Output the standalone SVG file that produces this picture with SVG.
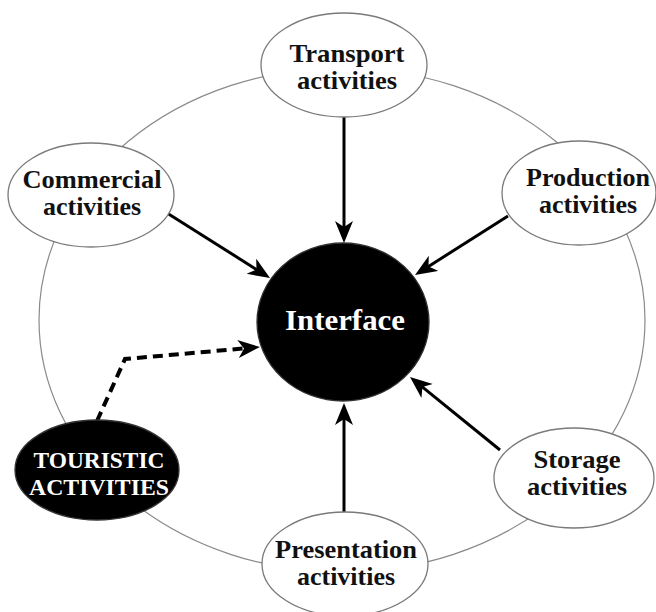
<svg xmlns="http://www.w3.org/2000/svg" width="656" height="612" viewBox="0 0 656 612">
  <style>
    .ring { fill: none; stroke: #8a8a8a; stroke-width: 1.2; }
    .node { fill: #ffffff; stroke: #7a7a7a; stroke-width: 1.3; }
    .dark { fill: #000000; stroke: #333333; stroke-width: 1.3; }
    .lbl { font-family: "Liberation Serif", "Times New Roman", serif; font-weight: bold; font-size: 26px; fill: #111111; text-anchor: middle; }
    .lbl-w { font-family: "Liberation Serif", "Times New Roman", serif; font-weight: bold; font-size: 24px; fill: #ffffff; text-anchor: middle; }
    .hub { font-family: "Liberation Serif", "Times New Roman", serif; font-weight: bold; font-size: 29px; fill: #ffffff; text-anchor: middle; }
    .link { fill: none; stroke: #000000; stroke-width: 3; }
    .dash { fill: none; stroke: #000000; stroke-width: 4; stroke-dasharray: 10 6; }
  </style>
  <defs>
    <marker id="head" markerUnits="userSpaceOnUse" markerWidth="24" markerHeight="20" refX="13" refY="9" orient="auto">
      <path d="M0,0 L22,9 L0,18 L6,9 Z" fill="#000000"/>
    </marker>
  </defs>

  <rect width="656" height="612" fill="#ffffff"/>

  <!-- surrounding ring that links the activity nodes -->
  <ellipse class="ring" cx="342" cy="320" rx="303" ry="252"/>

  <!-- connectors -->
  <g id="connectors">
    <line class="link" x1="344" y1="117" x2="344" y2="234" marker-end="url(#head)"/>
    <line class="link" x1="167" y1="213" x2="262.4" y2="273.2" marker-end="url(#head)"/>
    <line class="link" x1="508" y1="216" x2="422.6" y2="270.2" marker-end="url(#head)"/>
    <line class="link" x1="500" y1="450" x2="417" y2="382.7" marker-end="url(#head)"/>
    <line class="link" x1="344" y1="512" x2="344" y2="412" marker-end="url(#head)"/>
    <polyline class="dash" points="97,421 125,359 251,347.8" marker-end="url(#head)"/>
  </g>

  <g id="transport">
    <ellipse class="node" cx="344" cy="65" rx="83" ry="52"/>
    <text class="lbl" x="347" y="62" textLength="115" lengthAdjust="spacingAndGlyphs">Transport</text>
    <text class="lbl" x="347" y="89" textLength="100" lengthAdjust="spacingAndGlyphs">activities</text>
  </g>

  <g id="commercial">
    <ellipse class="node" cx="91" cy="195" rx="83" ry="52"/>
    <text class="lbl" x="92" y="188" textLength="139" lengthAdjust="spacingAndGlyphs">Commercial</text>
    <text class="lbl" x="92" y="215" textLength="98" lengthAdjust="spacingAndGlyphs">activities</text>
  </g>

  <g id="production">
    <ellipse class="node" cx="579" cy="193" rx="77" ry="52"/>
    <text class="lbl" x="588" y="186" textLength="124" lengthAdjust="spacingAndGlyphs">Production</text>
    <text class="lbl" x="588" y="213" textLength="98" lengthAdjust="spacingAndGlyphs">activities</text>
  </g>

  <g id="storage">
    <ellipse class="node" cx="574" cy="478" rx="80" ry="50"/>
    <text class="lbl" x="577" y="468" textLength="87" lengthAdjust="spacingAndGlyphs">Storage</text>
    <text class="lbl" x="577" y="495" textLength="100" lengthAdjust="spacingAndGlyphs">activities</text>
  </g>

  <g id="presentation">
    <ellipse class="node" cx="345" cy="564" rx="83" ry="52"/>
    <text class="lbl" x="346" y="558" textLength="142" lengthAdjust="spacingAndGlyphs">Presentation</text>
    <text class="lbl" x="346" y="585" textLength="98" lengthAdjust="spacingAndGlyphs">activities</text>
  </g>

  <g id="touristic">
    <ellipse class="dark" cx="97" cy="470" rx="82" ry="50"/>
    <text class="lbl-w" x="99" y="468" textLength="131" lengthAdjust="spacingAndGlyphs">TOURISTIC</text>
    <text class="lbl-w" x="99" y="495" textLength="140" lengthAdjust="spacingAndGlyphs">ACTIVITIES</text>
  </g>

  <g id="interface">
    <ellipse class="dark" cx="343" cy="322" rx="86" ry="79"/>
    <text class="hub" x="345" y="330" textLength="120" lengthAdjust="spacingAndGlyphs">Interface</text>
  </g>
</svg>
